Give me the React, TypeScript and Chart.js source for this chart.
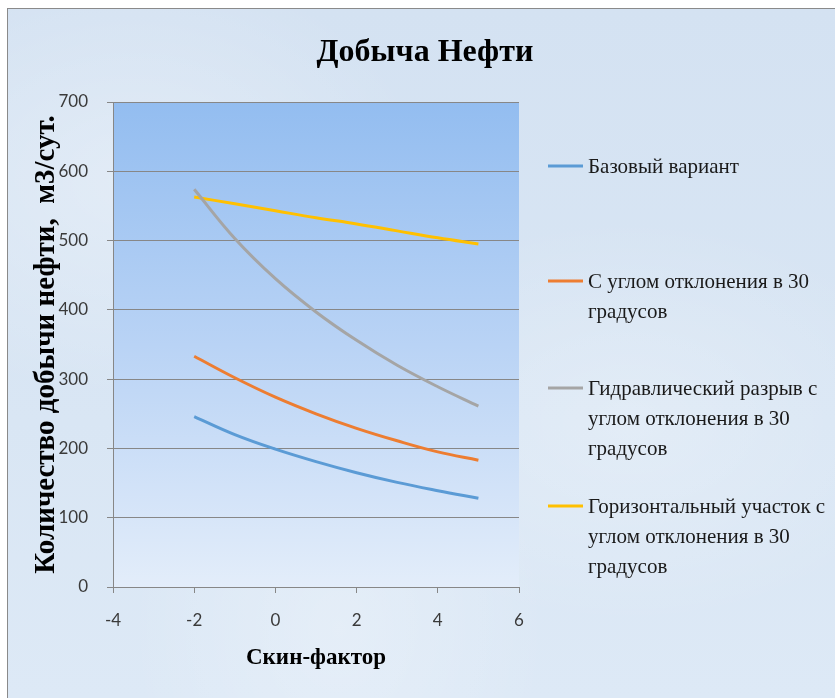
import React, { useEffect, useRef } from "react";
import { Chart, registerables } from "chart.js";

Chart.register(...registerables);

const skinFactor = [-2, -1, 0, 1, 2, 3, 4, 5];
const baseVariant = [246, 220, 199, 181, 165, 151, 139, 128];
const angle30 = [333, 302, 274, 250, 229, 211, 195, 183];
const fracAngle30 = [574, 503, 445, 397, 356, 320, 289, 261];
const horizAngle30 = [563, 553, 543, 533, 524, 514, 504, 495];

const seriesNames = [
  "Базовый вариант",
  "С углом отклонения в 30 градусов",
  "Гидравлический разрыв с углом отклонения в 30 градусов",
  "Горизонтальный участок с углом отклонения в 30 градусов",
];
const legendLines = [
  ["Базовый вариант"],
  ["С углом отклонения в 30", "градусов"],
  ["Гидравлический разрыв с", "углом отклонения в 30", "градусов"],
  ["Горизонтальный участок с", "углом отклонения в 30", "градусов"],
];
const seriesColors = ["#5b9bd5", "#ed7d31", "#a5a5a5", "#ffc000"];

const chartTitle = "Добыча Нефти";
const xTitle = "Скин-фактор";
const yTitle = "Количество добычи нефти,  м3/сут.";

const SERIF = "'Liberation Serif', 'Times New Roman', serif";

const plotBg = {
  id: "plotBg",
  beforeDraw(chart: any) {
    const { ctx, chartArea } = chart;
    const { left, top, right, bottom } = chartArea;
    const g = ctx.createLinearGradient(0, top, 0, bottom);
    g.addColorStop(0, "#93bdf0");
    g.addColorStop(0.5, "#b9d3f5");
    g.addColorStop(1, "#e3edfa");
    ctx.save();
    ctx.fillStyle = g;
    ctx.fillRect(left, top, right - left, bottom - top);
    ctx.restore();
  },
};

const titleAndLegend = {
  id: "titleAndLegend",
  afterDraw(chart: any) {
    const { ctx } = chart;
    ctx.save();
    ctx.font = `bold 32px ${SERIF}`;
    ctx.fillStyle = "#000000";
    ctx.textAlign = "center";
    ctx.textBaseline = "middle";
    ctx.fillText(chartTitle, 425, 53);

    const starts = [167, 282, 389, 507];
    const lineGap = 30;
    ctx.font = `21px ${SERIF}`;
    ctx.textBaseline = "middle";
    ctx.textAlign = "left";
    legendLines.forEach((lines, i) => {
      const y0 = starts[i];
      ctx.strokeStyle = seriesColors[i];
      ctx.lineWidth = 3;
      ctx.beginPath();
      ctx.moveTo(548, y0 - 1);
      ctx.lineTo(583, y0 - 1);
      ctx.stroke();
      ctx.fillStyle = "#1a1a1a";
      lines.forEach((t, j) => {
        ctx.fillText(t, 588, y0 + j * lineGap);
      });
    });
    ctx.restore();
  },
};

function App() {
  const ref = useRef<HTMLCanvasElement | null>(null);
  useEffect(() => {
    if (!ref.current) return;
    const values = [baseVariant, angle30, fracAngle30, horizAngle30];
    const chart = new Chart(ref.current, {
      type: "line",
      data: {
        datasets: values.map((arr, i) => ({
          label: seriesNames[i],
          data: arr.map((v, k) => ({ x: skinFactor[k], y: v })),
          borderColor: seriesColors[i],
          backgroundColor: seriesColors[i],
          borderWidth: 3,
          pointRadius: 0,
          tension: 0.4,
          fill: false,
        })),
      },
      plugins: [plotBg, titleAndLegend],
      options: {
        responsive: false,
        animation: false,
        layout: { padding: { left: 0, right: 316, top: 102, bottom: 0 } },
        plugins: {
          legend: { display: false },
          tooltip: { enabled: false },
          title: { display: false },
        },
        scales: {
          x: {
            type: "linear",
            min: -4,
            max: 6,
            afterFit: (s: any) => {
              s.height = 111;
            },
            ticks: {
              stepSize: 2,
              color: "#3a3a3a",
              font: { family: "Lato", size: 17 },
              padding: 17,
            },
            grid: {
              drawOnChartArea: false,
              drawTicks: true,
              tickLength: 6,
              color: "#878787",
            },
            border: { display: true, color: "#878787" },
            title: {
              display: true,
              text: xTitle,
              color: "#000000",
              font: { family: SERIF, size: 23, weight: "bold", lineHeight: 1.2 },
              padding: { top: 0, bottom: 26 },
            },
          },
          y: {
            type: "linear",
            min: 0,
            max: 700,
            afterFit: (s: any) => {
              s.width = 113;
            },
            ticks: {
              stepSize: 100,
              color: "#3a3a3a",
              font: { family: "Lato", size: 17 },
              padding: 19,
            },
            grid: {
              drawOnChartArea: true,
              drawTicks: true,
              tickLength: 6,
              color: "#878787",
            },
            border: { display: true, color: "#878787" },
            title: {
              display: true,
              text: yTitle,
              color: "#000000",
              font: { family: SERIF, size: 29, weight: "bold", lineHeight: 1.2 },
              padding: { top: 29.6, bottom: 0 },
            },
          },
        },
      },
    });
    return () => chart.destroy();
  }, []);

  return (
    <div style={{ position: "absolute", left: 0, top: 0, width: 835, height: 698, background: "#ffffff", overflow: "hidden" }}>
      <div
        style={{
          position: "absolute",
          left: 7,
          top: 8,
          right: 0,
          bottom: 0,
          borderLeft: "1px solid #8a8a8a",
          borderTop: "1px solid #8a8a8a",
          background:
            "radial-gradient(ellipse at 15% 25%, rgba(255,255,255,0.3), rgba(255,255,255,0) 30%), radial-gradient(ellipse at 75% 60%, rgba(255,255,255,0.25), rgba(255,255,255,0) 35%), radial-gradient(ellipse at 40% 90%, rgba(255,255,255,0.25), rgba(255,255,255,0) 30%), linear-gradient(180deg, #d4e2f2 0%, #d9e6f4 60%, #dde9f6 100%)",
        }}
      />
      <canvas ref={ref} width={835} height={698} style={{ position: "absolute", left: 0, top: 0, width: 835, height: 698 }} />
    </div>
  );
}

export default App;
